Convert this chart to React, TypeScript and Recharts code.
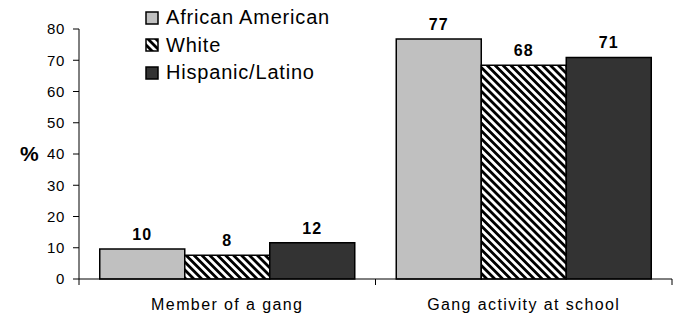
import React from 'react';
import { BarChart, Bar, XAxis, YAxis, Legend, LabelList } from 'recharts';

// values (labels are the rounded ones)
const categories = ['Member of a gang', 'Gang activity at school'];
const africanAmerican = [9.6, 76.8];
const white = [7.6, 68.4];
const hispanicLatino = [11.6, 70.9];
const yTicks = [0, 10, 20, 30, 40, 50, 60, 70, 80];

const series = [
  { key: 'aa', name: 'African American', fill: '#c0c0c0' },
  { key: 'w', name: 'White', fill: 'url(#hatch)' },
  { key: 'hl', name: 'Hispanic/Latino', fill: '#333333' }
];

const data = categories.map((name, i) => ({
  name,
  aa: africanAmerican[i],
  w: white[i],
  hl: hispanicLatino[i]
}));

const font = '"Liberation Sans", Arial, sans-serif';
const W = 673;
const H = 319;
const Y_AXIS_W = 79;
const RIGHT = 1;
const CAT_TICK_MARGIN = 20;
const HALF_BAND = (W - Y_AXIS_W - RIGHT) / categories.length / 2;

function LegendBox() {
  return (
    <div style={{ fontFamily: font, fontSize: 20, letterSpacing: 0.8, color: '#000' }}>
      {series.map((s) => (
        <div key={s.key} style={{ display: 'flex', alignItems: 'center', height: 27.5 }}>
          <svg width={14} height={14} style={{ marginRight: 7 }}>
            <rect x={1} y={1} width={12} height={12} fill={s.fill} stroke="#000" strokeWidth={1.5} />
          </svg>
          <span>{s.name}</span>
        </div>
      ))}
    </div>
  );
}

// category label plus the small boundary ticks between groups
function CatTick({ x, y, payload, index }: any) {
  const axisY = y - CAT_TICK_MARGIN;
  return (
    <g>
      <line x1={x - HALF_BAND} x2={x - HALF_BAND} y1={axisY} y2={axisY + 6} stroke="#000" />
      {index === categories.length - 1 && (
        <line x1={x + HALF_BAND} x2={x + HALF_BAND} y1={axisY} y2={axisY + 6} stroke="#000" />
      )}
      <text x={x} y={y} dy="0.71em" textAnchor="middle" fill="#000" fontSize={16} letterSpacing={1.4} fontFamily={font}>
        {payload.value}
      </text>
    </g>
  );
}

export default function App() {
  return (
    <div style={{ position: 'absolute', top: 0, left: 0, width: W, height: H, background: '#fff' }}>
      <BarChart
        width={W}
        height={H}
        data={data}
        margin={{ top: 29, right: RIGHT, left: 0, bottom: 0 }}
        barCategoryGap="7%"
        barGap={0}
        style={{ fontFamily: font }}
      >
        <defs>
          <pattern id="hatch" patternUnits="userSpaceOnUse" width={5.6} height={5.6} patternTransform="rotate(-45)">
            <rect x={0} y={0} width={5.6} height={5.6} fill="#fff" />
            <rect x={0} y={0} width={2.8} height={5.6} fill="#000" />
          </pattern>
        </defs>
        <XAxis
          dataKey="name"
          tickLine={false}
          tickSize={0}
          axisLine={{ stroke: '#000' }}
          tick={<CatTick />}
          tickMargin={CAT_TICK_MARGIN}
          height={40}
        />
        <YAxis
          domain={[0, 80]}
          ticks={yTicks}
          width={Y_AXIS_W}
          axisLine={{ stroke: '#000' }}
          tickLine={{ stroke: '#000' }}
          tickSize={6}
          tickMargin={8}
          tick={{ fill: '#000', fontSize: 15, letterSpacing: 0.6 }}
          label={{ value: '%', position: 'insideLeft', offset: 20, fontSize: 21, fontWeight: 'bold', fill: '#000' }}
        />
        <Legend
          layout="vertical"
          align="center"
          verticalAlign="middle"
          content={<LegendBox />}
          wrapperStyle={{ top: 4, left: 145, width: 'auto', height: 'auto' }}
        />
        {series.map((s) => (
          <Bar
            key={s.key}
            dataKey={s.key}
            name={s.name}
            fill={s.fill}
            stroke="#000"
            strokeWidth={1.5}
            isAnimationActive={false}
          >
            <LabelList
              dataKey={s.key}
              position="top"
              offset={9}
              formatter={(v: any) => Math.round(Number(v))}
              style={{ fontSize: 16, fontWeight: 'bold', fill: '#000', letterSpacing: 1 }}
            />
          </Bar>
        ))}
      </BarChart>
    </div>
  );
}
